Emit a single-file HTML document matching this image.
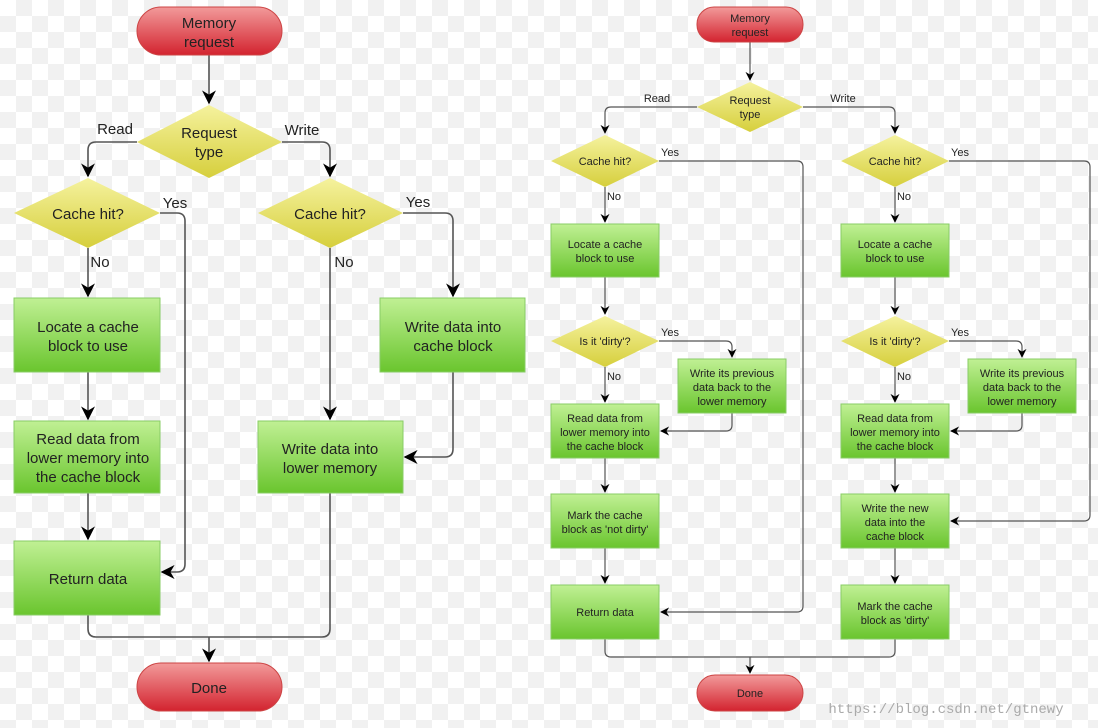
<!DOCTYPE html>
<html><head><meta charset="utf-8"><style>
html,body{margin:0;padding:0;width:1098px;height:728px;overflow:hidden;
background-color:#fff;
background-image:conic-gradient(#f1f1f1 25%,#fff 0 50%,#f1f1f1 0 75%,#fff 0);
background-size:32px 32px;}
svg{position:absolute;left:0;top:0}
text{font-family:"Liberation Sans",sans-serif;fill:#222;text-anchor:middle}
.L{font-size:15px}.S{font-size:11px}
.ln{stroke:#555;stroke-width:1.6;fill:none}
.ln2{stroke:#555;stroke-width:1.2;fill:none}
</style></head><body>
<svg width="1098" height="728" viewBox="0 0 1098 728">
<defs>
<linearGradient id="r" x1="0" y1="0" x2="0" y2="1"><stop offset="0" stop-color="#f29a9a"/><stop offset="1" stop-color="#d3232f"/></linearGradient>
<linearGradient id="g" x1="0" y1="0" x2="0" y2="1"><stop offset="0" stop-color="#c0f094"/><stop offset="1" stop-color="#6ac52e"/></linearGradient>
<linearGradient id="y" x1="0" y1="0" x2="0" y2="1"><stop offset="0" stop-color="#f5f29e"/><stop offset="1" stop-color="#d6cf3c"/></linearGradient>
<marker id="a" viewBox="0 0 10 10" refX="9" refY="5" markerWidth="9" markerHeight="9" orient="auto" markerUnits="userSpaceOnUse"><path d="M0,0 L10,5 L0,10 L3,5z" fill="#000"/></marker>
<marker id="b" viewBox="0 0 10 10" refX="9" refY="5" markerWidth="14" markerHeight="14" orient="auto" markerUnits="userSpaceOnUse"><path d="M0,0 L10,5 L0,10 L3,5z" fill="#000"/></marker>
</defs>

<!-- LEFT -->
<g>
<path class="ln" d="M209,55 V103" marker-end="url(#b)"/>
<path class="ln" d="M137,142 H96 Q88,142 88,150 V176" marker-end="url(#b)"/>
<path class="ln" d="M282,142 H322 Q330,142 330,150 V176" marker-end="url(#b)"/>
<path class="ln" d="M160,213 H177 Q185,213 185,221 V564 Q185,572 177,572 H162" marker-end="url(#b)"/>
<path class="ln" d="M88,248 V296" marker-end="url(#b)"/>
<path class="ln" d="M88,372 V419" marker-end="url(#b)"/>
<path class="ln" d="M88,493 V539" marker-end="url(#b)"/>
<path class="ln" d="M330,248 V419" marker-end="url(#b)"/>
<path class="ln" d="M403,213 H445 Q453,213 453,221 V296" marker-end="url(#b)"/>
<path class="ln" d="M453,372 V449 Q453,457 445,457 H405" marker-end="url(#b)"/>
<path class="ln" d="M88,615 V629 Q88,637 96,637 H322 Q330,637 330,629 V493"/>
<path class="ln" d="M209,637 V661" marker-end="url(#b)"/>

<rect x="137" y="7" width="145" height="48" rx="24" fill="url(#r)" stroke="#c44"/>
<text class="L" x="209" y="28">Memory</text><text class="L" x="209" y="47">request</text>
<polygon points="209,105 282,142 209,178 137,142" fill="url(#y)"/>
<text class="L" x="209" y="138">Request</text><text class="L" x="209" y="157">type</text>
<text class="L" x="115" y="134">Read</text><text class="L" x="302" y="135">Write</text>
<polygon points="88,178 160,213 88,248 14,213" fill="url(#y)"/>
<text class="L" x="88" y="219">Cache hit?</text>
<polygon points="330,178 403,213 330,248 258,213" fill="url(#y)"/>
<text class="L" x="330" y="219">Cache hit?</text>
<text class="L" x="175" y="208">Yes</text><text class="L" x="418" y="207">Yes</text>
<text class="L" x="100" y="267">No</text><text class="L" x="344" y="267">No</text>
<rect x="14" y="298" width="146" height="74" fill="url(#g)" stroke="#8c6"/>
<text class="L" x="88" y="332">Locate a cache</text><text class="L" x="88" y="351">block to use</text>
<rect x="14" y="421" width="146" height="72" fill="url(#g)" stroke="#8c6"/>
<text class="L" x="88" y="444">Read data from</text><text class="L" x="88" y="463">lower memory into</text><text class="L" x="88" y="482">the cache block</text>
<rect x="14" y="541" width="146" height="74" fill="url(#g)" stroke="#8c6"/>
<text class="L" x="88" y="584">Return data</text>
<rect x="380" y="298" width="145" height="74" fill="url(#g)" stroke="#8c6"/>
<text class="L" x="453" y="332">Write data into</text><text class="L" x="453" y="351">cache block</text>
<rect x="258" y="421" width="145" height="72" fill="url(#g)" stroke="#8c6"/>
<text class="L" x="330" y="454">Write data into</text><text class="L" x="330" y="473">lower memory</text>
<rect x="137" y="663" width="145" height="48" rx="24" fill="url(#r)" stroke="#c44"/>
<text class="L" x="209" y="693">Done</text>
</g>

<!-- RIGHT -->
<g>
<path class="ln2" d="M750,42 V80" marker-end="url(#a)"/>
<path class="ln2" d="M697,107 H611 Q605,107 605,113 V133" marker-end="url(#a)"/>
<path class="ln2" d="M803,107 H889 Q895,107 895,113 V133" marker-end="url(#a)"/>
<path class="ln2" d="M659,161 H797 Q803,161 803,167 V606 Q803,612 797,612 H661" marker-end="url(#a)"/>
<path class="ln2" d="M949,161 H1084 Q1090,161 1090,167 V515 Q1090,521 1084,521 H951" marker-end="url(#a)"/>
<g id="col">
<path class="ln2" d="M605,187 V222" marker-end="url(#a)"/>
<path class="ln2" d="M605,277 V314" marker-end="url(#a)"/>
<path class="ln2" d="M605,367 V402" marker-end="url(#a)"/>
<path class="ln2" d="M659,341 H726 Q732,341 732,347 V357" marker-end="url(#a)"/>
<path class="ln2" d="M732,413 V425 Q732,431 726,431 H661" marker-end="url(#a)"/>
<path class="ln2" d="M605,458 V492" marker-end="url(#a)"/>
<path class="ln2" d="M605,548 V583" marker-end="url(#a)"/>
</g>
<use href="#col" x="290"/>
<path class="ln2" d="M605,639 V651 Q605,657 611,657 H889 Q895,657 895,651 V639"/>
<path class="ln2" d="M750,657 V673" marker-end="url(#a)"/>

<rect x="697" y="7" width="106" height="35" rx="17" fill="url(#r)" stroke="#c44"/>
<text class="S" x="750" y="22">Memory</text><text class="S" x="750" y="36">request</text>
<polygon points="750,82 803,107 750,132 697,107" fill="url(#y)"/>
<text class="S" x="750" y="104">Request</text><text class="S" x="750" y="118">type</text>
<text class="S" x="657" y="102">Read</text><text class="S" x="843" y="102">Write</text>

<g id="c2">
<polygon points="605,135 659,161 605,187 551,161" fill="url(#y)"/>
<text class="S" x="605" y="165">Cache hit?</text>
<text class="S" x="670" y="156">Yes</text>
<text class="S" x="614" y="200">No</text>
<rect x="551" y="224" width="108" height="53" fill="url(#g)" stroke="#8c6"/>
<text class="S" x="605" y="248">Locate a cache</text><text class="S" x="605" y="262">block to use</text>
<polygon points="605,316 659,341 605,367 551,341" fill="url(#y)"/>
<text class="S" x="605" y="345">Is it 'dirty'?</text>
<text class="S" x="670" y="336">Yes</text>
<text class="S" x="614" y="380">No</text>
<rect x="678" y="359" width="108" height="54" fill="url(#g)" stroke="#8c6"/>
<text class="S" x="732" y="377">Write its previous</text><text class="S" x="732" y="391">data back to the</text><text class="S" x="732" y="405">lower memory</text>
<rect x="551" y="404" width="108" height="54" fill="url(#g)" stroke="#8c6"/>
<text class="S" x="605" y="422">Read data from</text><text class="S" x="605" y="436">lower memory into</text><text class="S" x="605" y="450">the cache block</text>
</g>
<use href="#c2" x="290"/>
<rect x="551" y="494" width="108" height="54" fill="url(#g)" stroke="#8c6"/>
<text class="S" x="605" y="519">Mark the cache</text><text class="S" x="605" y="533">block as 'not dirty'</text>
<rect x="551" y="585" width="108" height="54" fill="url(#g)" stroke="#8c6"/>
<text class="S" x="605" y="616">Return data</text>
<rect x="841" y="494" width="108" height="54" fill="url(#g)" stroke="#8c6"/>
<text class="S" x="895" y="512">Write the new</text><text class="S" x="895" y="526">data into the</text><text class="S" x="895" y="540">cache block</text>
<rect x="841" y="585" width="108" height="54" fill="url(#g)" stroke="#8c6"/>
<text class="S" x="895" y="610">Mark the cache</text><text class="S" x="895" y="624">block as 'dirty'</text>
<rect x="697" y="675" width="106" height="36" rx="18" fill="url(#r)" stroke="#c44"/>
<text class="S" x="750" y="697">Done</text>
<text x="946" y="713" style="font-family:'Liberation Mono',monospace;font-size:14px;fill:#aaa">https://blog.csdn.net/gtnewy</text>
</g>
</svg>
</body></html>
